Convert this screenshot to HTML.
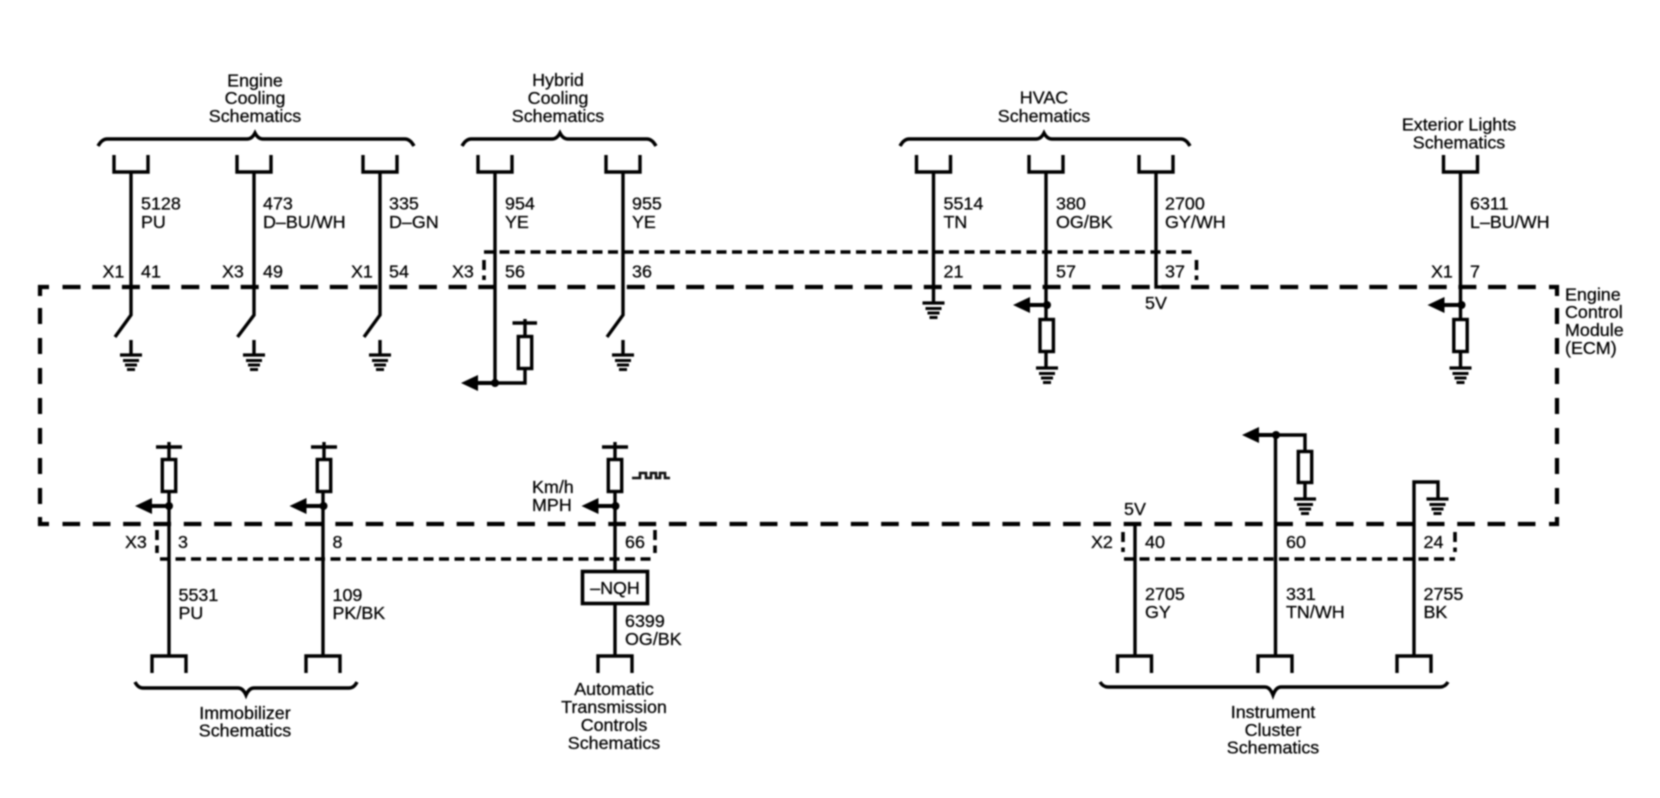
<!DOCTYPE html>
<html>
<head>
<meta charset="utf-8">
<style>
html,body{margin:0;padding:0;background:#fff;width:1660px;height:798px;overflow:hidden}
svg{display:block;filter:blur(.7px)}
text{font-family:"Liberation Sans",Arial,sans-serif;font-size:17.9px;fill:#000;stroke:#000;stroke-width:.25}
.c{text-anchor:middle}
.w{fill:none;stroke:#000;stroke-width:3.4}
.d{fill:none;stroke:#000;stroke-width:4.2}
.s{fill:none;stroke:#000;stroke-width:3.6;stroke-dasharray:10 5.5}
</style>
</head>
<body>
<svg width="1660" height="798" viewBox="0 0 1660 798" xmlns="http://www.w3.org/2000/svg">
<defs>
<g id="gnd" fill="none" stroke="#000"><path d="M-11 0H11" stroke-width="3.2"/><path d="M-8 5.5H8" stroke-width="3"/><path d="M-6 10H6" stroke-width="3"/><path d="M-4 14.5H4" stroke-width="3"/></g>
<path id="ct" class="w" d="M-17 155V172H17V155"/>
<path id="cb" class="w" d="M-17 673V656H17V673"/>
<g id="ar"><polygon points="-34,0 -17,-8 -17,8" fill="#000"/><path d="M-18 0H0" stroke="#000" stroke-width="4"/><circle r="4" fill="#000"/></g>
<g id="pu"><path class="w" d="M-13 447H13M0 442V459"/><rect x="-6.7" y="459.5" width="13.4" height="32" fill="#fff" stroke="#000" stroke-width="3.4"/></g>
</defs>

<!-- ECM dashed box -->
<path class="d" d="M62.5 287H1540" stroke-dasharray="18 11.7"/>
<path class="d" d="M40 296V287H49"/>
<path class="d" d="M40 308V510" stroke-dasharray="16 14"/>
<path class="d" d="M40 517V524H49"/>
<path class="d" d="M62.5 524H1540" stroke-dasharray="17.6 12.72"/>
<path class="d" d="M1549 287H1557V296"/>
<path class="d" d="M1557 308V510" stroke-dasharray="16 14"/>
<path class="d" d="M1549 524H1557V517"/>

<!-- secondary dashed -->
<path class="s" d="M484 252H1197"/>
<path class="s" d="M484 260V280" stroke-dasharray="14 3 4 9"/>
<path class="s" d="M1196.5 260V280" stroke-dasharray="14 3 4 9"/>
<path class="s" d="M160 559H655"/>
<path class="s" d="M157 530V553" stroke-dasharray="5 3 15 9"/>
<path class="s" d="M655 530V553" stroke-dasharray="5 3 15 9"/>
<path class="s" d="M1124 559H1455"/>
<path class="s" d="M1123 532V552" stroke-dasharray="4 2 14 9"/>
<path class="s" d="M1455 532V552" stroke-dasharray="4 2 14 9"/>

<!-- braces -->
<path class="w" d="M98 146Q102 139 107 139H247Q252 139 255 133Q258 139 263 139H405Q410 139 414 146"/>
<path class="w" d="M462 146Q466 139 471 139H552Q557 139 560 133Q563 139 568 139H647Q652 139 656 146"/>
<path class="w" d="M900 146Q904 139 909 139H1036Q1041 139 1044 133Q1047 139 1052 139H1181Q1186 139 1190 146"/>
<path class="w" d="M135 682Q138 688 143 688H238Q243 688 246 695Q249 688 254 688H349Q354 688 357 682"/>
<path class="w" d="M1100 682Q1103 687 1108 687H1265Q1270 687 1273 695Q1276 687 1281 687H1440Q1445 687 1448 682"/>

<!-- top connectors -->
<use href="#ct" x="131"/><use href="#ct" x="254"/><use href="#ct" x="380"/><use href="#ct" x="495"/><use href="#ct" x="623"/>
<use href="#ct" x="933.5"/><use href="#ct" x="1046"/><use href="#ct" x="1156"/><use href="#ct" x="1460.5"/>

<!-- top wires with switches -->
<path class="w" d="M131 173V315L115 337"/>
<path class="w" d="M254 173V315L237.5 337"/>
<path class="w" d="M380 173V315L364 337"/>
<path class="w" d="M623 173V315L607 337"/>
<path class="w" d="M131 340V355M254 340V355M380 340V355M623 340V355"/>
<use href="#gnd" x="131" y="355"/><use href="#gnd" x="254" y="355"/><use href="#gnd" x="380" y="355"/><use href="#gnd" x="623" y="355"/>

<!-- 954 -->
<path class="w" d="M495 173V383H525V368M525 337V323M512.5 323H537M525 319V323"/>
<rect x="518.3" y="336.5" width="13.4" height="32" fill="#fff" stroke="#000" stroke-width="3.4"/>
<use href="#ar" x="495" y="383"/>

<!-- 5514 -->
<path class="w" d="M933.5 173V303"/>
<use href="#gnd" x="933.5" y="303"/>

<!-- 380 -->
<path class="w" d="M1046 173V320M1046 351V368"/>
<rect x="1040" y="319.5" width="13.4" height="32" fill="#fff" stroke="#000" stroke-width="3.4"/>
<use href="#ar" x="1047" y="305"/>
<use href="#gnd" x="1047" y="368"/>

<!-- 2700 -->
<path class="w" d="M1156 173V287H1172"/>

<!-- 6311 -->
<path class="w" d="M1460.5 173V320M1460.5 351V368"/>
<rect x="1453.8" y="319.5" width="13.4" height="32" fill="#fff" stroke="#000" stroke-width="3.4"/>
<use href="#ar" x="1461.5" y="305"/>
<use href="#gnd" x="1460.5" y="368"/>

<!-- bottom left -->
<path class="w" d="M169 492V655"/>
<use href="#pu" x="169"/>
<use href="#ar" x="169" y="506"/>
<use href="#cb" x="169"/>

<path class="w" d="M323 492V655"/>
<use href="#pu" x="324"/>
<use href="#ar" x="323.5" y="506"/>
<use href="#cb" x="323"/>

<path class="w" d="M615 492V655"/>
<use href="#pu" x="615"/>
<use href="#ar" x="615.5" y="506"/>
<use href="#cb" x="615"/>
<rect x="582.5" y="571.5" width="65" height="32" fill="#fff" stroke="#000" stroke-width="3.6"/>
<path fill="none" stroke="#111" stroke-width="2.6" d="M632 478H640V473H646V478H651V473H656V478H660V473H665V478H670"/>

<!-- bottom right -->
<path class="w" d="M1135 524V655"/>
<use href="#cb" x="1134.5"/>
<path class="w" d="M1275.5 435V655M1275.5 435H1305V451.5M1305 482V499"/>
<rect x="1298.3" y="451.5" width="13.4" height="31" fill="#fff" stroke="#000" stroke-width="3.4"/>
<use href="#ar" x="1276" y="435"/>
<use href="#gnd" x="1305" y="499"/>
<use href="#cb" x="1275"/>
<path class="w" d="M1414 655V482H1438V499"/>
<use href="#gnd" x="1437.5" y="499"/>
<use href="#cb" x="1414"/>

<!-- group labels -->
<text class="c" x="255" y="86.5">Engine</text>
<text class="c" x="255" y="104">Cooling</text>
<text class="c" x="255" y="122">Schematics</text>
<text class="c" x="558" y="86">Hybrid</text>
<text class="c" x="558" y="104">Cooling</text>
<text class="c" x="558" y="122">Schematics</text>
<text class="c" x="1044" y="103.5">HVAC</text>
<text class="c" x="1044" y="122">Schematics</text>
<text class="c" x="1459" y="130.5">Exterior Lights</text>
<text class="c" x="1459" y="148.5">Schematics</text>
<text x="1565" y="300.5">Engine</text>
<text x="1565" y="318">Control</text>
<text x="1565" y="336">Module</text>
<text x="1565" y="354">(ECM)</text>
<text class="c" x="245" y="719">Immobilizer</text>
<text class="c" x="245" y="736.5">Schematics</text>
<text class="c" x="614" y="695">Automatic</text>
<text class="c" x="614" y="713">Transmission</text>
<text class="c" x="614" y="731">Controls</text>
<text class="c" x="614" y="749">Schematics</text>
<text class="c" x="1273" y="718">Instrument</text>
<text class="c" x="1273" y="736">Cluster</text>
<text class="c" x="1273" y="753.5">Schematics</text>

<!-- wire labels top -->
<text x="141" y="209.5">5128</text><text x="141" y="228">PU</text>
<text x="263" y="209.5">473</text><text x="263" y="228">D–BU/WH</text>
<text x="389" y="209.5">335</text><text x="389" y="228">D–GN</text>
<text x="505" y="209.5">954</text><text x="505" y="228">YE</text>
<text x="632" y="209.5">955</text><text x="632" y="228">YE</text>
<text x="943.5" y="209.5">5514</text><text x="943.5" y="228">TN</text>
<text x="1056" y="209.5">380</text><text x="1056" y="228">OG/BK</text>
<text x="1165" y="209.5">2700</text><text x="1165" y="228">GY/WH</text>
<text x="1470" y="209.5">6311</text><text x="1470" y="228">L–BU/WH</text>

<!-- pin row top -->
<text x="102.5" y="277.5">X1</text><text x="141" y="277.5">41</text>
<text x="222" y="277.5">X3</text><text x="263" y="277.5">49</text>
<text x="351" y="277.5">X1</text><text x="389" y="277.5">54</text>
<text x="452" y="277.5">X3</text><text x="505" y="277.5">56</text>
<text x="632" y="277.5">36</text>
<text x="943.5" y="277.5">21</text>
<text x="1056" y="277.5">57</text>
<text x="1165" y="277.5">37</text>
<text x="1431" y="277.5">X1</text><text x="1470" y="277.5">7</text>
<text x="1145" y="309">5V</text>

<!-- bottom labels -->
<text x="125" y="548">X3</text><text x="178" y="548">3</text>
<text x="332.5" y="548">8</text>
<text x="625" y="548">66</text>
<text x="178.5" y="601">5531</text><text x="178.5" y="619">PU</text>
<text x="332.5" y="601">109</text><text x="332.5" y="619">PK/BK</text>
<text x="625" y="627">6399</text><text x="625" y="645">OG/BK</text>
<text x="532" y="493">Km/h</text><text x="532" y="511">MPH</text>
<text class="c" x="615" y="594">–NQH</text>
<text x="1124" y="515">5V</text>
<text x="1091" y="548">X2</text><text x="1145" y="548">40</text>
<text x="1286" y="548">60</text>
<text x="1423.5" y="548">24</text>
<text x="1145" y="600">2705</text><text x="1145" y="618">GY</text>
<text x="1286" y="600">331</text><text x="1286" y="618">TN/WH</text>
<text x="1423.5" y="600">2755</text><text x="1423.5" y="618">BK</text>
</svg>
</body>
</html>
